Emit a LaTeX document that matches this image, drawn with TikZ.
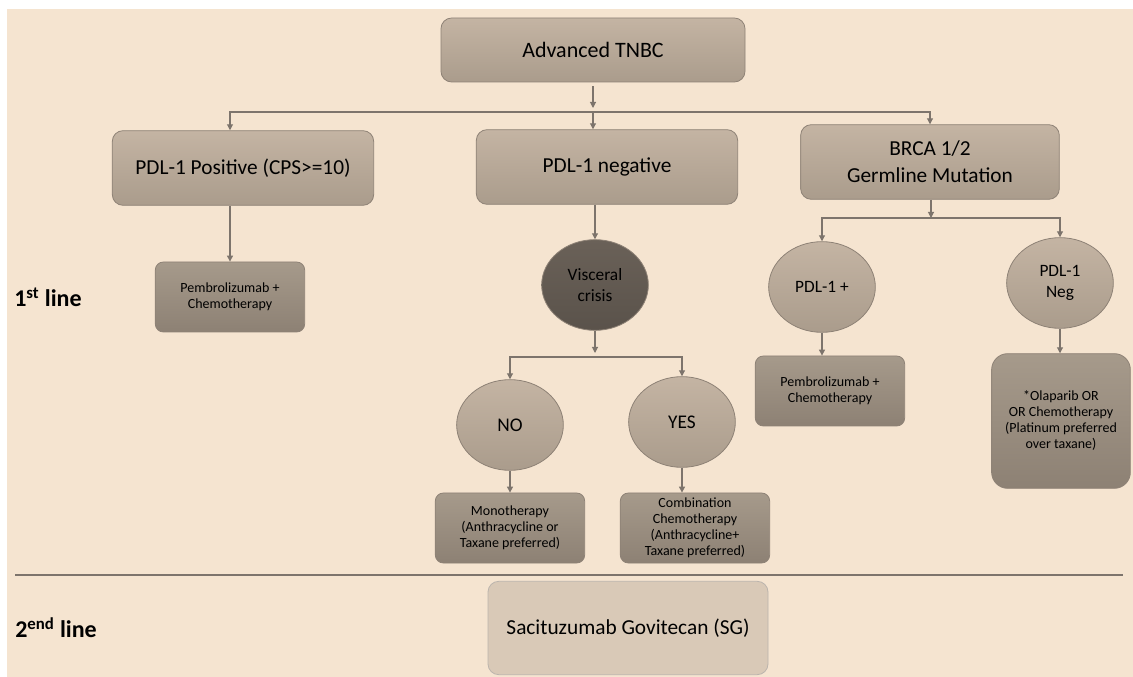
\documentclass[tikz,border=0pt]{standalone}
\usepackage{fontspec}
\setmainfont{Carlito}
\usetikzlibrary{shapes.geometric,arrows.meta}
\definecolor{bgc}{HTML}{F5E4D0}
\definecolor{boxtop}{HTML}{C4B4A3}
\definecolor{boxbot}{HTML}{AA9C8C}
\definecolor{darktop}{HTML}{A69A8B}
\definecolor{darkbot}{HTML}{8D8174}
\definecolor{viscc}{HTML}{6A6158}
\definecolor{sgc}{HTML}{D9C9B7}
\definecolor{edgec}{HTML}{8E8276}
\definecolor{linec}{HTML}{7D746C}
\begin{document}
\begin{tikzpicture}[x=0.75pt,y=-0.75pt,>={Triangle[width=4.5pt,length=4.5pt]},
	box/.style={draw=edgec,line width=0.6pt,rounded corners=8pt,top color=boxtop,bottom color=boxbot,align=center,inner sep=2pt},
	bigbox/.style={box,minimum width=196pt,minimum height=56pt,font=\fontsize{16}{20}\selectfont},
	smallbox/.style={box,top color=darktop,bottom color=darkbot,minimum width=112pt,minimum height=52.5pt,rounded corners=6pt,font=\fontsize{10.5}{12}\selectfont},
	disc/.style={ellipse,draw=edgec,line width=0.6pt,top color=boxtop,bottom color=boxbot,minimum width=80pt,minimum height=68pt,inner sep=0pt,align=center,font=\fontsize{13}{15.5}\selectfont},
	link/.style={draw=linec,line width=0.8pt},
	stage/.style={font=\bfseries\fontsize{18}{20}\selectfont,anchor=west,inner sep=0pt}]
	\useasboundingbox (0,0) rectangle (1133,677);
	\fill[white] (0,0) rectangle (1133,677);
	\fill[bgc] (7,9) rectangle (1133,677);
	% first line
	\node[box,minimum width=228pt,minimum height=48pt,font=\fontsize{16.5}{20}\selectfont] (tnbc) at (593,50) {Advanced TNBC};
	\node[bigbox] (pos) at (243,168) {PDL-1 Positive (CPS>=10)};
	\node[bigbox] (neg) at (607,167) {PDL-1 negative};
	\node[bigbox,minimum width=194pt] (brca) at (930,162) {BRCA 1/2\\Germline Mutation};
	\node[smallbox] (pemA) at (230,297) {Pembrolizumab +\\Chemotherapy};
	\node[disc,top color=viscc,bottom color=viscc!85!black] (visc) at (595,285) {Visceral\\crisis};
	\node[disc] (pdlp) at (822,287) {PDL-1 +};
	\node[disc] (pdln) at (1060,283) {PDL-1\\Neg};
	\node[disc,font=\fontsize{14.5}{17}\selectfont] (no) at (510,425) {NO};
	\node[disc,font=\fontsize{14.5}{17}\selectfont] (yes) at (682,422) {YES};
	\node[smallbox] (mono) at (510,528) {Monotherapy\\(Anthracycline or\\Taxane preferred)};
	\node[smallbox] (comb) at (695,528) {Combination\\Chemotherapy\\(Anthracycline+\\Taxane preferred)};
	\node[smallbox] (pemB) at (830,391) {Pembrolizumab +\\Chemotherapy};
	\node[smallbox,minimum width=104pt,minimum height=101pt,rounded corners=12pt] (olap) at (1061,421) {*Olaparib OR\\OR Chemotherapy\\(Platinum preferred\\over taxane)};
	% second line
	\node[box,draw=edgec!60,top color=sgc,bottom color=sgc,minimum width=210pt,minimum height=70pt,font=\fontsize{16}{20}\selectfont] (sg) at (628,628) {Sacituzumab Govitecan (SG)};
	\node[stage] (first) at (14,297) {1\textsuperscript{st} line};
	\node[stage] (second) at (15,628) {2\textsuperscript{end} line};
	\coordinate (sepL) at (15,575);
	\coordinate (sepR) at (1123,575);
	\draw[link,line width=1pt] (sepL) -- (sepR);
	% connectors
	\coordinate (bus1) at (593,112);
	\coordinate (bus2) at (595,357);
	\coordinate (bus3) at (931,218);
	\draw[link,->] ([yshift=-3pt]tnbc.south) -- ([yshift=3pt]bus1);
	\draw[link,->] (bus1) -| (pemA |- pos.north);
	\draw[link,->] (bus1) -| (brca.north);
	\draw[link,->] (bus1) -- (bus1 |- neg.north);
	\draw[link,->] (pos.south -| pemA.north) -- (pemA.north);
	\draw[link,->] (neg.south -| visc) -- (visc.north);
	\draw[link,->] (visc) -- ([yshift=3pt]bus2);
	\draw[link,->] (bus2) -| (no);
	\draw[link,->] (bus2) -| (yes);
	\draw[link,->] (no) -- (mono);
	\draw[link,->] (yes) -- (yes |- comb.north);
	\draw[link,->] (brca.south -| bus3) -- (bus3);
	\draw[link,->] (bus3) -| (pdlp);
	\draw[link,->] (bus3) -| (pdln);
	\draw[link,->] (pdlp) -- (pdlp |- pemB.north);
	\draw[link,->] (pdln) -- (pdln |- olap.north);
\end{tikzpicture}
\end{document}
